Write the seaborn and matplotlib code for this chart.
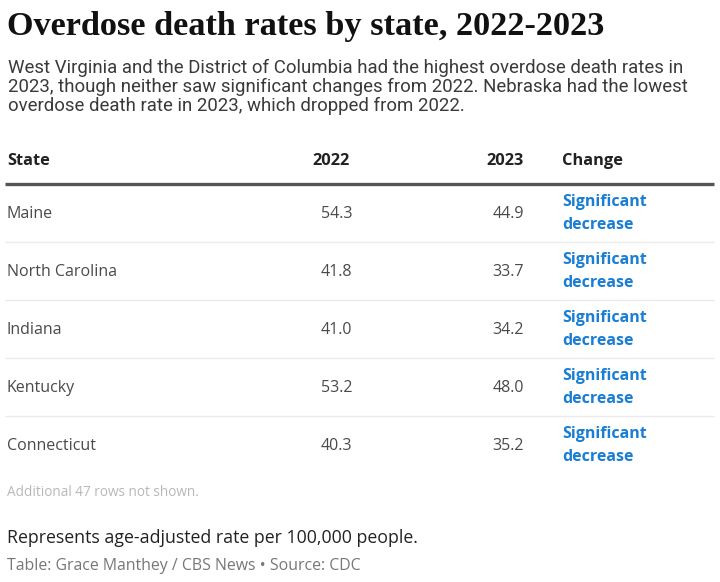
import matplotlib
matplotlib.use("Agg")
import matplotlib.pyplot as plt
import seaborn as sns
import pandas as pd

states = ["Maine", "North Carolina", "Indiana", "Kentucky", "Connecticut"]
rate_2022 = [54.3, 41.8, 41.0, 53.2, 40.3]
rate_2023 = [44.9, 33.7, 34.2, 48.0, 35.2]
change = ["Significant\ndecrease"] * 5
headers = ["State", "2022", "2023", "Change"]

title = "Overdose death rates by state, 2022-2023"
subtitle = ["West Virginia and the District of Columbia had the highest overdose death rates in",
            "2023, though neither saw significant changes from 2022. Nebraska had the lowest",
            "overdose death rate in 2023, which dropped from 2022."]
note_rows = "Additional 47 rows not shown."
note = "Represents age-adjusted rate per 100,000 people."
credit = "Table: Grace Manthey / CBS News \u2022 Source: CDC"

sns.set_theme(style="white")
plt.rcParams["font.family"] = ["Open Sans", "DejaVu Sans"]

df = pd.DataFrame({"state": states, "y2022": rate_2022, "y2023": rate_2023, "change": change})

fig = plt.figure(figsize=(7.2, 5.82), dpi=100)
ax = fig.add_axes([0, 0, 1, 1])
ax.set_xlim(0, 720)
ax.set_ylim(582, 0)
ax.axis("off")

dark = "#222222"
blue = "#1a7fd4"

ax.text(7, 26, title, fontsize=24.7, fontweight="bold", family="Liberation Serif",
        color="#111111", va="center")
for k, line in enumerate(subtitle):
    ax.text(8, 68 + 19 * k, line, fontsize=13.4, family="Roboto",
            color="#3a3a3a", va="center")

# header
hy = 161
hs = 11.8
ax.text(7, hy, headers[0], fontsize=hs, fontweight="bold", color=dark, va="center")
ax.text(350, hy, headers[1], fontsize=hs, fontweight="bold", color=dark, va="center", ha="right")
ax.text(524, hy, headers[2], fontsize=hs, fontweight="bold", color=dark, va="center", ha="right")
ax.text(562, hy, headers[3], fontsize=hs, fontweight="bold", color=dark, va="center")
ax.plot([5, 714], [184, 184], color="#555555", lw=2.4, solid_capstyle="butt")

row_h = 58
y0 = 213
bs = 11.5
for i, r in df.iterrows():
    y = y0 + i * row_h
    ax.text(7, y + 1.5, r["state"], fontsize=bs, color="#4a4a4a", va="center")
    ax.text(352, y + 1.5, f"{r['y2022']:.1f}", fontsize=bs, color="#4a4a4a", va="center", ha="right")
    ax.text(524, y + 1.5, f"{r['y2023']:.1f}", fontsize=bs, color="#4a4a4a", va="center", ha="right")
    top, bottom = r["change"].split("\n")
    ax.text(562, y - 11, top, fontsize=bs, fontweight="bold", color=blue, va="center")
    ax.text(562, y + 12, bottom, fontsize=bs, fontweight="bold", color=blue, va="center")
    if i < len(df) - 1:
        ax.plot([5, 714], [y + 29, y + 29], color="#ebebeb", lw=1)

ax.text(7, 493, note_rows, fontsize=9.8, color="#b8b8b8", va="center")
ax.text(7, 538, note, fontsize=12.8, color="#222222", va="center")
ax.text(7, 566, credit, fontsize=11.4, color="#777777", va="center")

fig.savefig("out.png", dpi=100)
